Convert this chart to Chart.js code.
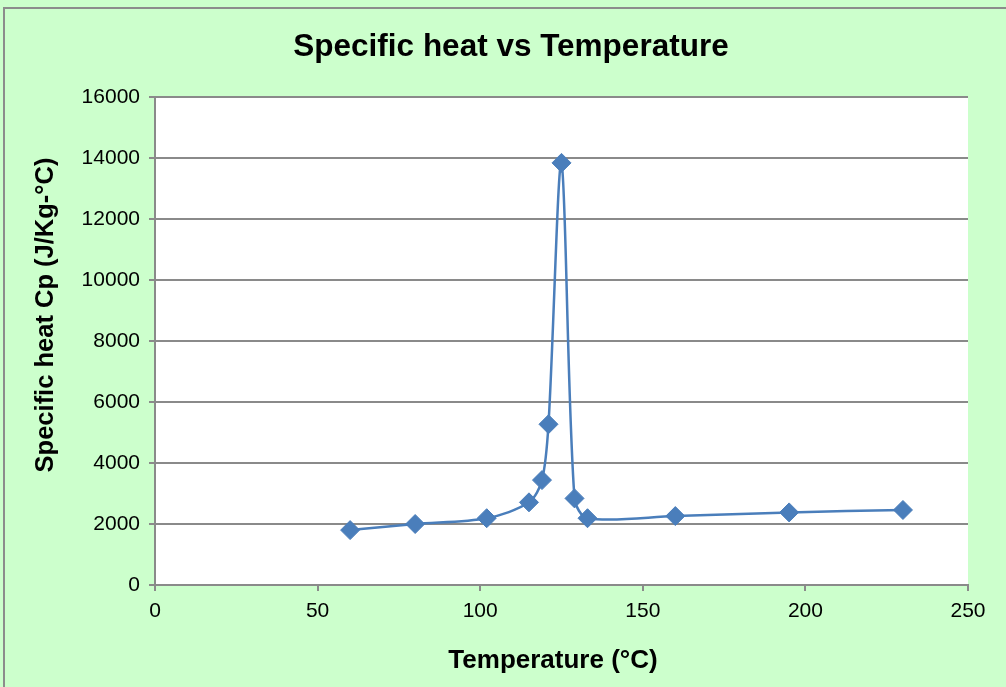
<!DOCTYPE html>
<html>
<head>
<meta charset="utf-8">
<script src="https://cdn.jsdelivr.net/npm/chart.js"></script>
<style>
  html, body { margin: 0; padding: 0; background: #ccffcc; }
  canvas { display: block; }
</style>
</head>
<body>
<canvas id="myChart" width="1006" height="687"></canvas>
<script>
// data
const temps = [60, 80, 102, 115, 119, 121, 125, 129, 133, 160, 195, 230];
const cpValues = [1800, 2000, 2190, 2710, 3440, 5270, 13840, 2840, 2190, 2260, 2380, 2460];
const yTicks = [0, 2000, 4000, 6000, 8000, 10000, 12000, 14000, 16000];
const xTicks = [0, 50, 100, 150, 200, 250];

const chartTitle = 'Specific heat vs Temperature';
const xTitle = 'Temperature (°C)';
const yTitle = 'Specific heat Cp (J/Kg-°C)';

const FONT = '"Liberation Sans", Arial, sans-serif';
const GRID = '#8a8a8a';

// green frame + white plot area
const backdrop = {
    id: 'backdrop',
    beforeDraw(chart) {
        const { ctx, chartArea: a } = chart;
        ctx.save();
        ctx.fillStyle = '#ccffcc';
        ctx.fillRect(0, 0, chart.width, chart.height);
        ctx.strokeStyle = '#8c8c8c';
        ctx.lineWidth = 2;
        ctx.strokeRect(4, 8, chart.width + 20, chart.height + 20);
        ctx.fillStyle = '#ffffff';
        ctx.fillRect(a.left, a.top, a.right - a.left, a.bottom - a.top);
        ctx.restore();
    }
};

// titles, placed like the excel ones
const titles = {
    id: 'titles',
    afterDraw(chart) {
        const { ctx } = chart;
        ctx.save();
        ctx.fillStyle = '#000';
        ctx.textAlign = 'center';
        ctx.textBaseline = 'alphabetic';
        ctx.font = 'bold 31.5px ' + FONT;
        ctx.fillText(chartTitle, 511, 56);
        ctx.font = 'bold 26px ' + FONT;
        ctx.fillText(xTitle, 553, 668);
        ctx.translate(53, 315);
        ctx.rotate(-Math.PI / 2);
        ctx.font = 'bold 25.5px ' + FONT;
        ctx.fillText(yTitle, 0, 0);
        ctx.restore();
    }
};

const ctx = document.getElementById('myChart').getContext('2d');
const myChart = new Chart(ctx, {
    type: 'scatter',
    data: {
        datasets: [{
            data: temps.map((t, i) => ({ x: t, y: cpValues[i] })),
            showLine: true,
            borderColor: '#4a7ebb',
            backgroundColor: '#4a7ebb',
            borderWidth: 2.5,
            tension: 0.3,
            pointStyle: 'rectRot',
            pointRadius: 9.5,
            pointBorderWidth: 1,
            pointBorderColor: '#4a7ebb'
        }]
    },
    options: {
        responsive: false,
        devicePixelRatio: 1,
        animation: false,
        layout: { padding: { top: 97, right: 38, left: 0, bottom: 0 } },
        plugins: {
            legend: { display: false },
            tooltip: { enabled: false }
        },
        scales: {
            x: {
                type: 'linear',
                min: 0,
                max: 250,
                afterFit: s => { s.height = 102; },
                afterBuildTicks: s => { s.ticks = xTicks.map(v => ({ value: v })); },
                ticks: {
                    color: '#000',
                    font: { family: FONT, size: 21 },
                    padding: 8,
                    maxRotation: 0
                },
                grid: { drawOnChartArea: false, color: GRID, lineWidth: 2, tickLength: 6 },
                border: { display: true, color: GRID, width: 2 }
            },
            y: {
                type: 'linear',
                min: 0,
                max: 16000,
                afterFit: s => { s.width = 155; },
                afterBuildTicks: s => { s.ticks = yTicks.map(v => ({ value: v })); },
                ticks: {
                    color: '#000',
                    font: { family: FONT, size: 21 },
                    padding: 9,
                    callback: v => String(v)
                },
                grid: { color: GRID, lineWidth: 2, tickLength: 6 },
                border: { display: true, color: GRID, width: 2 }
            }
        }
    },
    plugins: [backdrop, titles]
});
</script>
</body>
</html>
